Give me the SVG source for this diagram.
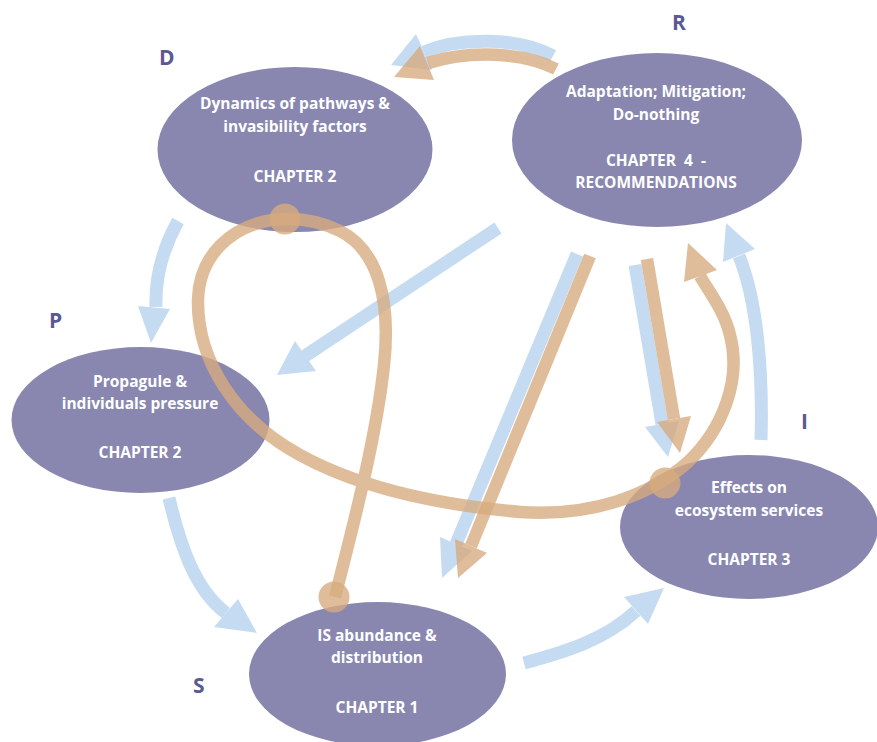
<svg xmlns="http://www.w3.org/2000/svg" width="877" height="742" viewBox="0 0 877 742">
  <defs>
    <style>
      .node { fill: #8987b0; }
      .lbl { font-family: "Open Sans", Lato, "Liberation Sans", sans-serif; font-weight: 700; font-size: 15.5px; fill: #ffffff; text-anchor: middle; white-space: pre; }
      .tag { font-family: "Open Sans", Lato, "Liberation Sans", sans-serif; font-weight: 700; font-size: 21px; fill: #5a5994; }
      .bl { fill: none; stroke: #c5dbf1; stroke-width: 13; }
      .blh { fill: #c5dbf1; }
      .orng { opacity: 0.78; }
      .or { fill: none; stroke: #d7aa7e; stroke-width: 12.5; }
      .orh { fill: #d7aa7e; }
      .knot { fill: #d7aa7e; opacity: 0.78; }
    </style>
  </defs>
  <rect width="877" height="742" fill="#ffffff"/>

  <!-- nodes -->
  <g id="node-D">
    <ellipse class="node" cx="295" cy="149.5" rx="137.5" ry="82.5"/>
    <text class="tag" x="159" y="65">D</text>
    <text class="lbl" x="295" y="109">Dynamics of pathways &amp;</text>
    <text class="lbl" x="295" y="132">invasibility factors</text>
    <text class="lbl" x="295" y="182">CHAPTER 2</text>
  </g>
  <g id="node-R">
    <ellipse class="node" cx="657" cy="140" rx="145" ry="87"/>
    <text class="tag" x="672" y="30">R</text>
    <text class="lbl" x="656" y="97">Adaptation; Mitigation;</text>
    <text class="lbl" x="656" y="120">Do-nothing</text>
    <text class="lbl" x="656" y="166">CHAPTER  4  -</text>
    <text class="lbl" x="656" y="188">RECOMMENDATIONS</text>
  </g>
  <g id="node-P">
    <ellipse class="node" cx="140.5" cy="420" rx="129" ry="73"/>
    <text class="tag" x="49" y="328">P</text>
    <text class="lbl" x="140" y="387">Propagule &amp;</text>
    <text class="lbl" x="140" y="409">individuals pressure</text>
    <text class="lbl" x="140" y="458">CHAPTER 2</text>
  </g>
  <g id="node-I">
    <ellipse class="node" cx="749" cy="527" rx="129" ry="72"/>
    <text class="tag" x="801" y="429">I</text>
    <text class="lbl" x="749" y="493">Effects on</text>
    <text class="lbl" x="749" y="516">ecosystem services</text>
    <text class="lbl" x="749" y="565">CHAPTER 3</text>
  </g>
  <g id="node-S">
    <ellipse class="node" cx="377.5" cy="674" rx="128.5" ry="72"/>
    <text class="tag" x="193" y="693">S</text>
    <text class="lbl" x="377" y="641">IS abundance &amp;</text>
    <text class="lbl" x="377" y="663">distribution</text>
    <text class="lbl" x="377" y="713">CHAPTER 1</text>
  </g>

  <!-- connectors -->
  <g id="connectors">
    <!-- blue flow arrows -->
    <g id="blue-arrows">
      <path class="bl" d="M553,56 C520,38 462,36 424,52"/>
      <polygon class="blh" points="416,34 432,70 391,65"/>
      <path class="bl" d="M498,228 L305,356"/>
      <polygon class="blh" points="295,341 316,371 277,375"/>
      <path class="bl" d="M178,221 C162,250 155,278 156,307"/>
      <polygon class="blh" points="138,306 170,309 151,343"/>
      <path class="bl" d="M169,498 C180,545 195,590 226,613"/>
      <polygon class="blh" points="214,627 238,599 257,633"/>
      <path class="bl" d="M524,663 C565,652 605,640 636,611"/>
      <polygon class="blh" points="624,597 648,624 664,588"/>
      <path class="bl" d="M577,254 L456,544"/>
      <polygon class="blh" points="440,537 472,551 442,578"/>
      <path class="bl" d="M635,265 L662,424"/>
      <polygon class="blh" points="645,427 679,421 668,457"/>
      <path class="bl" d="M761,440 C763,370 757,300 739,256"/>
      <polygon class="blh" points="723,262 755,249 726,223"/>
    </g>
    <!-- orange feedback arrows -->
    <g class="orng">
      <path class="or" d="M556,69 C522,52 470,50 428,63"/>
      <polygon class="orh" points="420,46 434,80 394,77"/>
    </g>
    <g class="orng">
      <path class="or" d="M590,256 L471,546"/>
      <polygon class="orh" points="455,539 487,553 458,578"/>
    </g>
    <g class="orng">
      <path class="or" d="M647,259 L674,419"/>
      <polygon class="orh" points="657,422 691,416 680,453"/>
    </g>
    <g class="orng">
      <path class="or" d="M335,597 C352,530 376,440 384,365 C391,300 378,250 340,231 C318,220 295,217 272,220 C232,226 199,255 198,300 C197,360 235,420 300,455 C360,488 440,505 520,512 C590,517 650,496 688,462 C722,430 742,380 730,335 C724,310 708,290 700,276"/>
      <polygon class="orh" points="684,282 717,270 688,243"/>
    </g>
    <circle class="knot" cx="334" cy="597" r="15.5"/>
    <circle class="knot" cx="285" cy="219" r="15.5"/>
    <circle class="knot" cx="665" cy="483" r="15.5"/>
  </g>
</svg>
